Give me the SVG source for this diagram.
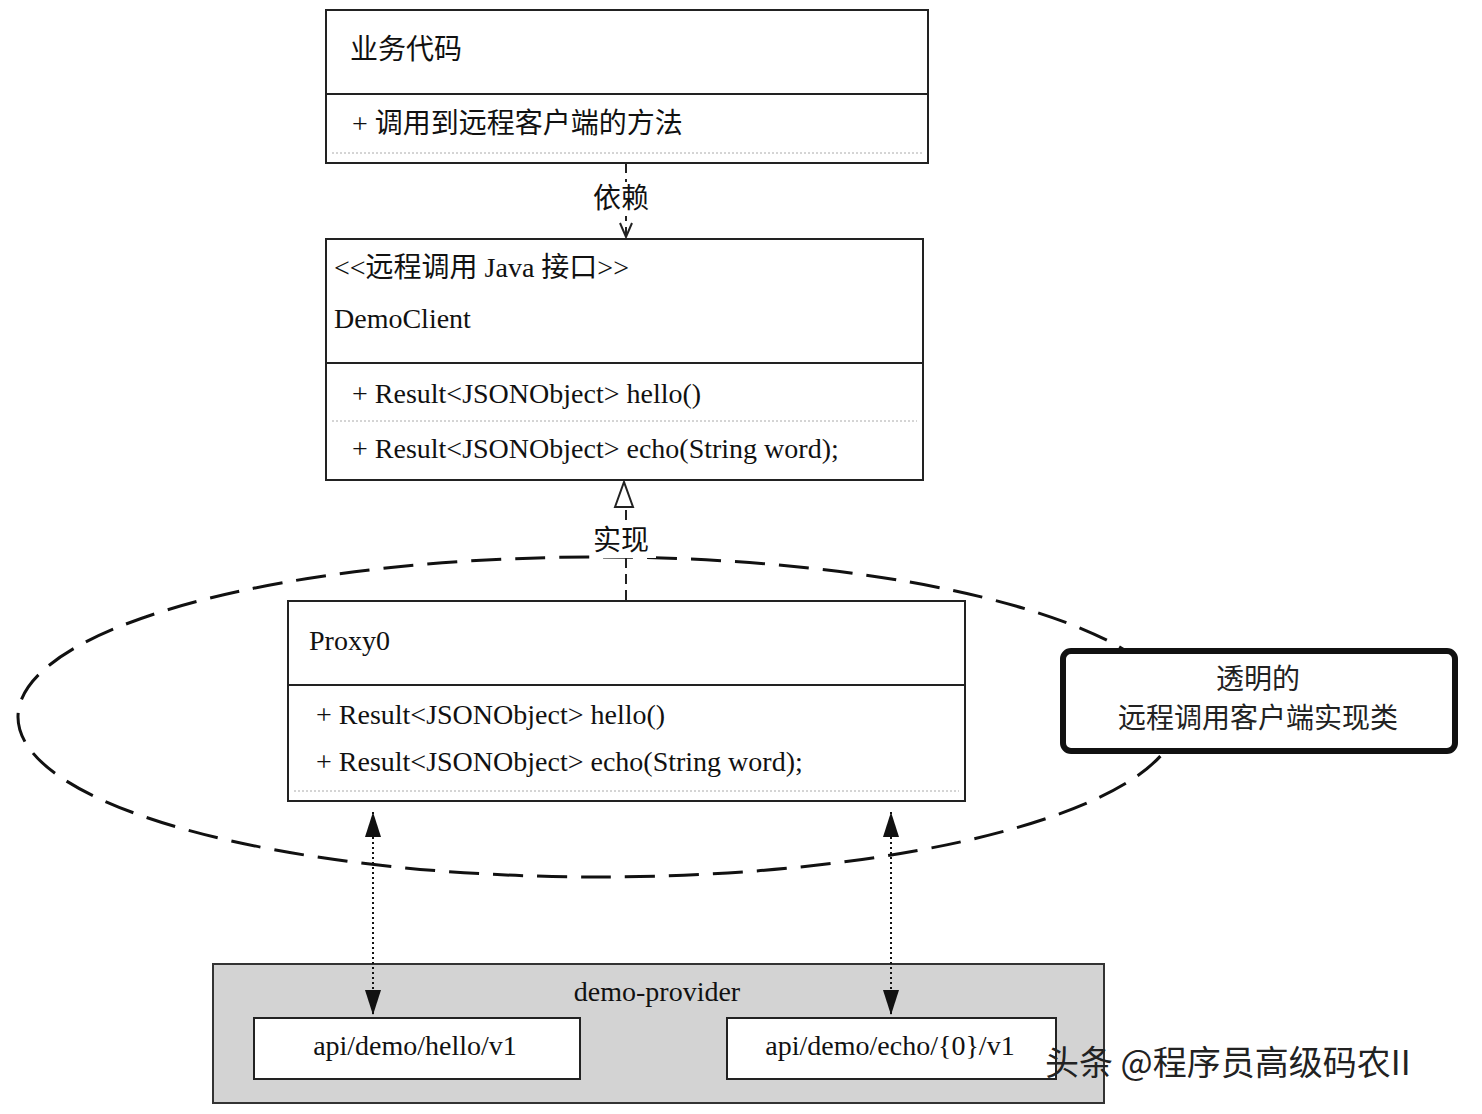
<svg xmlns="http://www.w3.org/2000/svg" width="1482" height="1114" viewBox="0 0 1482 1114">
<style>
.t{font-family:"Liberation Serif","Noto Sans CJK SC",serif;font-size:28px;fill:#111}
.c{font-family:"Noto Sans CJK SC",sans-serif;font-size:28px;fill:#222}
.box{fill:#fff;stroke:#222;stroke-width:2}
.div{stroke:#222;stroke-width:2}
.dot{stroke:#aaa;stroke-width:1;stroke-dasharray:2 2}
</style>
<defs>
<marker id="open" markerWidth="18" markerHeight="18" refX="15" refY="8" orient="auto-start-reverse" markerUnits="userSpaceOnUse"><path d="M1,2 L15,8 L1,14" fill="none" stroke="#222" stroke-width="2"/></marker>
<marker id="fill" markerWidth="28" markerHeight="18" refX="26" refY="9" orient="auto-start-reverse" markerUnits="userSpaceOnUse"><path d="M1,1 L26,9 L1,17 Z" fill="#111"/></marker>
</defs>
<rect width="1482" height="1114" fill="#fff"/>
<g id="ellipse"><ellipse cx="598" cy="717" rx="580" ry="160" fill="none" stroke="#111" stroke-width="3" stroke-dasharray="30 14"/></g>
<g id="business">
<rect class="box" x="326" y="10" width="602" height="153"/>
<line class="div" x1="326" y1="94" x2="928" y2="94"/>
<line class="dot" x1="332" y1="153" x2="922" y2="153"/>
<text class="t" x="350" y="59">业务代码</text>
<text class="t" x="352" y="133">+ 调用到远程客户端的方法</text>
</g>
<g id="democlient">
<rect class="box" x="326" y="239" width="597" height="241"/>
<line class="div" x1="326" y1="363" x2="923" y2="363"/>
<line class="dot" x1="332" y1="421" x2="917" y2="421"/>
<text class="t" x="334" y="277">&lt;&lt;远程调用 Java 接口&gt;&gt;</text>
<text class="t" x="334" y="328">DemoClient</text>
<text class="t" x="352" y="403">+ Result&lt;JSONObject&gt; hello()</text>
<text class="t" x="352" y="458">+ Result&lt;JSONObject&gt; echo(String word);</text>
</g>
<g id="proxy0">
<rect class="box" x="288" y="601" width="677" height="200"/>
<line class="div" x1="288" y1="685" x2="965" y2="685"/>
<line class="dot" x1="294" y1="791" x2="959" y2="791"/>
<text class="t" x="309" y="650">Proxy0</text>
<text class="t" x="316" y="724">+ Result&lt;JSONObject&gt; hello()</text>
<text class="t" x="316" y="771">+ Result&lt;JSONObject&gt; echo(String word);</text>
</g>
<g id="callout">
<rect x="1063" y="651" width="392" height="100" rx="8" fill="#fff" stroke="#111" stroke-width="6"/>
<text class="c" x="1258" y="689" text-anchor="middle">透明的</text>
<text class="c" x="1258" y="728" text-anchor="middle">远程调用客户端实现类</text>
</g>
<g id="provider">
<rect x="213" y="964" width="891" height="139" fill="#d3d3d3" stroke="#333" stroke-width="2"/>
<text class="t" x="657" y="1001" text-anchor="middle">demo-provider</text>
<rect class="box" x="254" y="1018" width="326" height="61"/>
<text class="t" x="415" y="1055" text-anchor="middle">api/demo/hello/v1</text>
<rect class="box" x="727" y="1018" width="329" height="61"/>
<text class="t" x="890" y="1055" text-anchor="middle">api/demo/echo/{0}/v1</text>
</g>
<g id="connectors">
<line x1="626" y1="163" x2="626" y2="237" stroke="#222" stroke-width="2" stroke-dasharray="10 6" marker-end="url(#open)"/>
<rect x="592" y="182" width="64" height="34" fill="#fff"/>
<text class="t" x="593" y="208">依赖</text>
<line x1="626" y1="600" x2="626" y2="508" stroke="#222" stroke-width="2" stroke-dasharray="10 6"/>
<path d="M615,507 L624,482 L633,507 Z" fill="#fff" stroke="#222" stroke-width="2"/>
<rect x="592" y="524" width="64" height="34" fill="#fff"/>
<text class="t" x="593" y="550">实现</text>
<line x1="373" y1="812" x2="373" y2="1015" stroke="#111" stroke-width="2" stroke-dasharray="2 3" marker-start="url(#fill)" marker-end="url(#fill)"/>
<line x1="891" y1="812" x2="891" y2="1015" stroke="#111" stroke-width="2" stroke-dasharray="2 3" marker-start="url(#fill)" marker-end="url(#fill)"/>
</g>
<text x="1045" y="1075" style="font-family:'Noto Sans CJK SC',sans-serif;font-size:34px;fill:#222">头条 @程序员高级码农II</text>
</svg>
